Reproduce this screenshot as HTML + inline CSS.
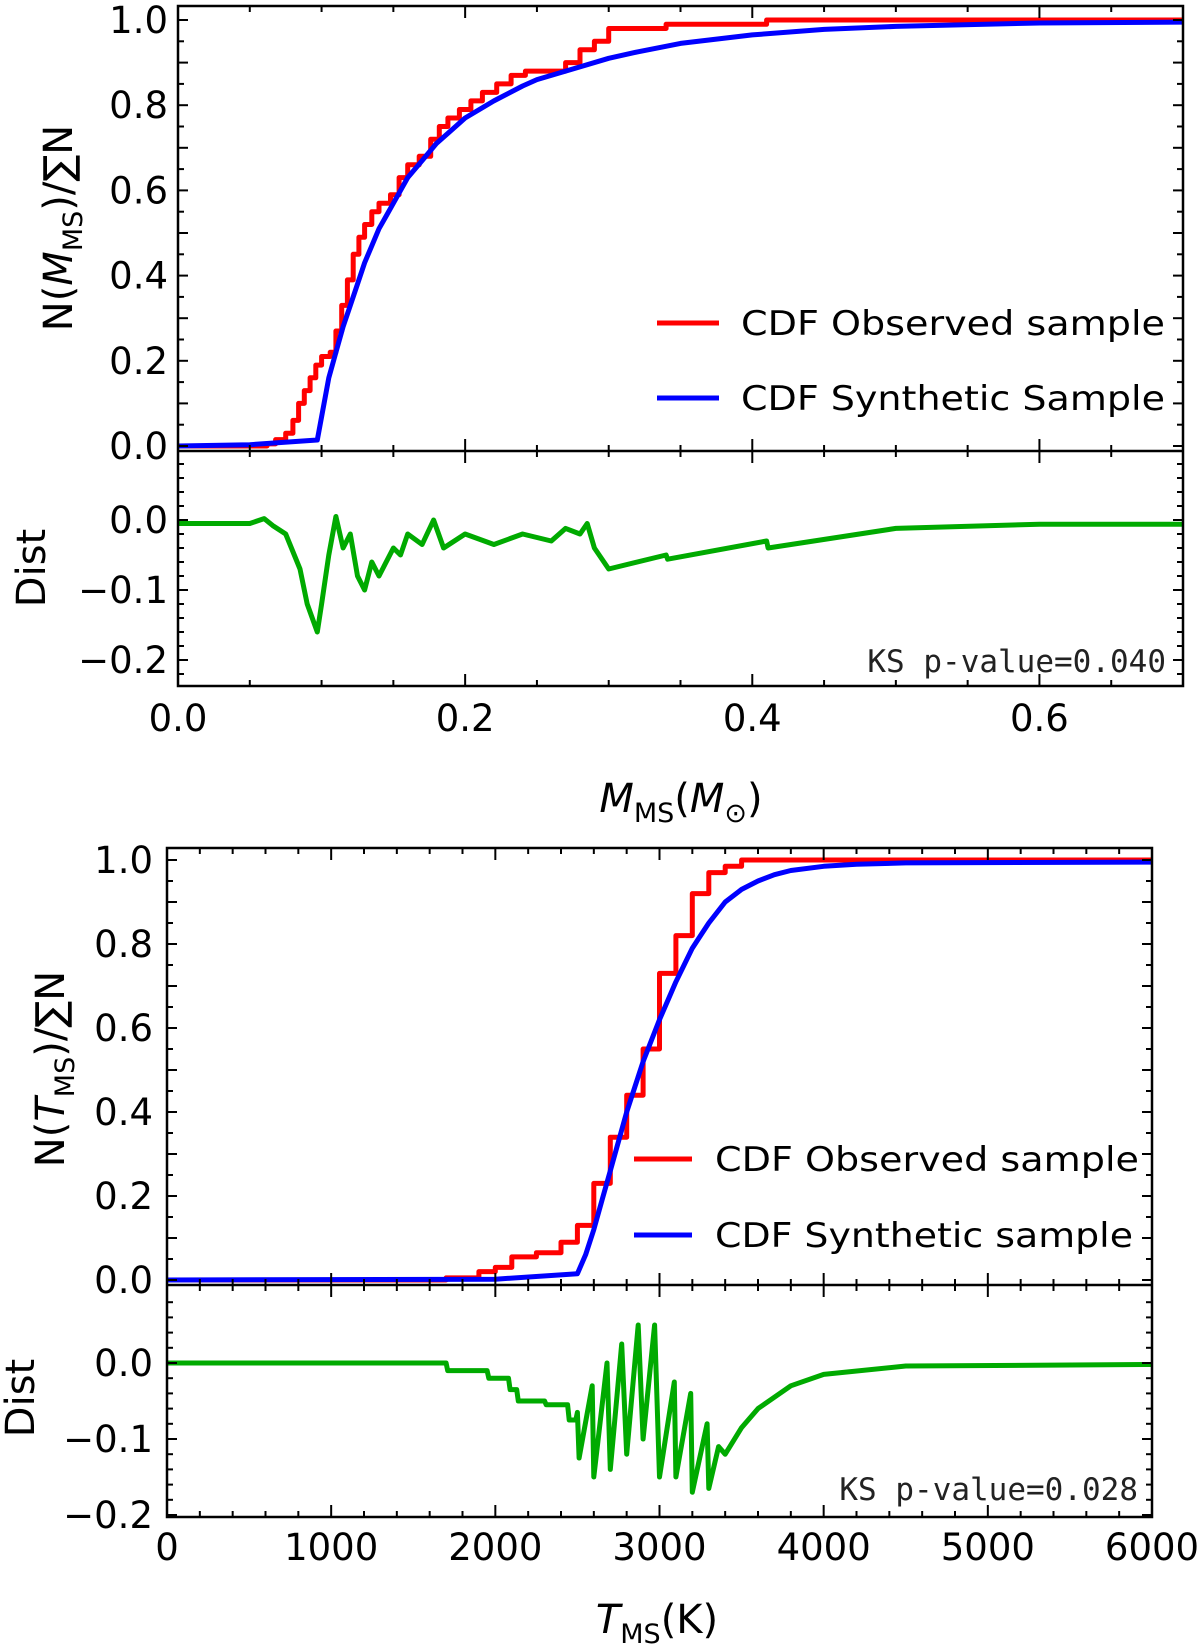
<!DOCTYPE html>
<html><head><meta charset="utf-8">
<style>
html,body{margin:0;padding:0;background:#fff;}
svg{display:block;font-family:"DejaVu Sans","Liberation Sans",sans-serif;}
</style></head>
<body>
<svg id="fig" width="1200" height="1647" viewBox="0 0 1200 1647" xmlns="http://www.w3.org/2000/svg">
</svg>
<script>
// ---------- Top panel data (mass) ----------
const massObsX = [0,0.062,0.068,0.075,0.08,0.084,0.088,0.092,0.096,0.1,0.106,0.11,0.114,0.118,0.122,0.126,0.13,0.135,0.14,0.148,0.154,0.16,0.168,0.176,0.182,0.188,0.196,0.204,0.212,0.222,0.232,0.242,0.256,0.27,0.28,0.29,0.3,0.34,0.41,0.7];
const massObsY = [0,0.005,0.015,0.03,0.06,0.1,0.13,0.16,0.19,0.21,0.22,0.27,0.33,0.39,0.45,0.49,0.52,0.55,0.57,0.59,0.63,0.66,0.68,0.72,0.75,0.77,0.79,0.81,0.83,0.85,0.87,0.88,0.88,0.9,0.93,0.95,0.98,0.99,1.0,1.0];
const massSynX = [0,0.05,0.097,0.105,0.11,0.115,0.12,0.125,0.13,0.135,0.14,0.145,0.15,0.16,0.17,0.18,0.19,0.2,0.22,0.24,0.25,0.27,0.3,0.32,0.35,0.4,0.45,0.5,0.6,0.7];
const massSynY = [0,0.003,0.014,0.16,0.22,0.28,0.33,0.38,0.43,0.47,0.51,0.54,0.57,0.63,0.67,0.71,0.74,0.77,0.81,0.845,0.86,0.88,0.91,0.925,0.945,0.965,0.978,0.985,0.993,0.995];
const massDistX = [0,0.05,0.06,0.066,0.075,0.085,0.09,0.097,0.1,0.105,0.11,0.115,0.12,0.125,0.13,0.135,0.14,0.15,0.155,0.16,0.17,0.178,0.185,0.2,0.22,0.24,0.26,0.27,0.28,0.285,0.29,0.3,0.34,0.341,0.41,0.411,0.5,0.6,0.7];
const massDistY = [-0.005,-0.005,0.002,-0.008,-0.02,-0.07,-0.12,-0.16,-0.12,-0.05,0.005,-0.04,-0.02,-0.08,-0.1,-0.06,-0.08,-0.04,-0.05,-0.02,-0.035,0.0,-0.04,-0.02,-0.035,-0.02,-0.03,-0.012,-0.02,-0.005,-0.04,-0.07,-0.05,-0.056,-0.03,-0.04,-0.012,-0.006,-0.006];
const massXTicks = [0,0.2,0.4,0.6];
const massXTickLabels = ["0.0","0.2","0.4","0.6"];
const mainYTicks = [0,0.2,0.4,0.6,0.8,1.0];
const mainYTickLabels = ["0.0","0.2","0.4","0.6","0.8","1.0"];
const massDistTicks = [0,-0.1,-0.2];
const massDistTickLabels = ["0.0","\u22120.1","\u22120.2"];

// ---------- Bottom panel data (temperature) ----------
const tempObsX = [0,1700,1900,2000,2100,2250,2400,2500,2600,2700,2800,2900,3000,3100,3200,3300,3400,3500,6000];
const tempObsY = [0,0.005,0.02,0.03,0.055,0.065,0.09,0.13,0.23,0.34,0.44,0.55,0.73,0.82,0.92,0.97,0.985,1.0,1.0];
const tempSynX = [0,2000,2500,2550,2600,2650,2700,2750,2800,2850,2900,2950,3000,3050,3100,3150,3200,3250,3300,3350,3400,3500,3600,3700,3800,4000,4200,4500,6000];
const tempSynY = [0,0.002,0.015,0.06,0.12,0.19,0.26,0.33,0.40,0.46,0.52,0.57,0.62,0.665,0.71,0.75,0.79,0.82,0.85,0.875,0.9,0.93,0.95,0.965,0.975,0.985,0.99,0.993,0.995];
const tempDistX = [0,1700,1710,1950,1960,2080,2090,2130,2140,2300,2310,2440,2450,2490,2500,2510,2590,2600,2680,2700,2770,2800,2870,2900,2970,3000,3090,3100,3190,3200,3290,3300,3360,3400,3500,3600,3800,4000,4500,6000];
const tempDistY = [0,0,-0.01,-0.01,-0.02,-0.02,-0.035,-0.035,-0.05,-0.05,-0.055,-0.055,-0.075,-0.075,-0.065,-0.125,-0.03,-0.15,-0.0,-0.14,0.025,-0.12,0.05,-0.1,0.05,-0.15,-0.025,-0.15,-0.04,-0.17,-0.08,-0.165,-0.11,-0.12,-0.085,-0.06,-0.03,-0.015,-0.004,-0.002];
const tempXTicks = [0,1000,2000,3000,4000,5000,6000];
const tempXTickLabels = ["0","1000","2000","3000","4000","5000","6000"];
const tempDistTicks = [0,-0.1,-0.2];
const tempDistTickLabels = ["0.0","\u22120.1","\u22120.2"];

const NS="http://www.w3.org/2000/svg";
const svg=document.getElementById('fig');
function mk(tag,attrs,parent){const e=document.createElementNS(NS,tag);for(const k in attrs)e.setAttribute(k,attrs[k]);(parent||svg).appendChild(e);return e;}

function panel(cfg){
  const g=mk('g',{});
  
  
  const L=cfg.left,R=cfg.right;
  const sx=v=>L+(v-cfg.xmin)/(cfg.xmax-cfg.xmin)*(R-L);
  const syM=v=>cfg.y0+(cfg.y1-cfg.y0)*v;
  const syD=v=>cfg.d0+(cfg.d1-cfg.d0)*(v/-0.1);
  const cid='c'+cfg.name;
  const cp=mk('clipPath',{id:cid+'m'},g);mk('rect',{x:L,y:cfg.top,width:R-L,height:cfg.div-cfg.top},cp);
  const cp2=mk('clipPath',{id:cid+'d'},g);mk('rect',{x:L,y:cfg.div,width:R-L,height:cfg.bottom-cfg.div},cp2);
  const gm=mk('g',{'clip-path':'url(#'+cid+'m)'},g);
  const gd=mk('g',{'clip-path':'url(#'+cid+'d)'},g);
  function pathIn(grp,xs,ys,sy,color,w,step,nm){
    let d='';
    for(let i=0;i<xs.length;i++){
      const X=sx(xs[i]),Y=sy(ys[i]);
      if(i===0)d+='M'+X.toFixed(1)+','+Y.toFixed(1);
      else{ if(step){d+=' L'+X.toFixed(1)+','+sy(ys[i-1]).toFixed(1);} d+=' L'+X.toFixed(1)+','+Y.toFixed(1); }
    }
    const p=mk('path',{d:d,fill:'none',stroke:color,'stroke-width':w,'stroke-linejoin':'round'},grp);
    
    
  }
  pathIn(gm,cfg.obsX,cfg.obsY,syM,'#ff0000',5,true,'observed-cdf-line');
  pathIn(gm,cfg.synX,cfg.synY,syM,'#0000ff',5,false,'synthetic-cdf-line');
  pathIn(gd,cfg.distX,cfg.distY,syD,'#00aa00',5,false,'distance-line');
  const tk=mk('g',{stroke:'#000','stroke-width':2},g);
  
  
  for(let v=cfg.xmin;v<=cfg.xmax+1e-9;v+=cfg.xminor){
    const maj=Math.abs(Math.round(v/cfg.xmajor)*cfg.xmajor-v)<1e-9;
    const len=maj?12:6,X=sx(v);
    [cfg.top,cfg.div,cfg.bottom].forEach((y,i)=>{
      if(i!==0) mk('line',{x1:X,x2:X,y1:y,y2:y-len},tk);
      if(i!==2) mk('line',{x1:X,x2:X,y1:y,y2:y+len},tk);
    });
  }
  for(let v=0;v<=1.0001;v+=0.05){
    const maj=Math.abs(Math.round(v/0.1)*0.1-v)<1e-9,len=maj?10:6,Y=syM(v);
    mk('line',{x1:L,x2:L+len,y1:Y,y2:Y},tk);mk('line',{x1:R,x2:R-len,y1:Y,y2:Y},tk);
  }
  for(let v=0.08;v>=-0.24;v-=0.02){
    const Y=syD(v);if(Y<cfg.div+2||Y>cfg.bottom-2)continue;
    const maj=Math.abs(Math.round(v/0.1)*0.1-v)<1e-9,len=maj?10:6;
    mk('line',{x1:L,x2:L+len,y1:Y,y2:Y},tk);mk('line',{x1:R,x2:R-len,y1:Y,y2:Y},tk);
  }
  mk('rect',{x:L,y:cfg.top,width:R-L,height:cfg.bottom-cfg.top,fill:'none',stroke:'#000','stroke-width':2.5},g);
  mk('line',{x1:L,x2:R,y1:cfg.div,y2:cfg.div,stroke:'#000','stroke-width':2.5},g);
  const fs=37;
  cfg.xticks.forEach((v,i)=>{const t=mk('text',{x:sx(v),y:cfg.xlabY,'font-size':fs,'text-anchor':'middle'},g);t.textContent=cfg.xtickLabels[i];
    });
  mainYTicks.forEach((v,i)=>{const t=mk('text',{x:cfg.ylabR,y:syM(v)+13,'font-size':fs,'text-anchor':'end'},g);t.textContent=mainYTickLabels[i];
    });
  cfg.dticks.forEach((v,i)=>{const t=mk('text',{x:cfg.ylabR,y:syD(v)+13,'font-size':fs,'text-anchor':'end'},g);t.textContent=cfg.dtickLabels[i];
    });
  const lg=mk('g',{},g);
  
  cfg.legend.forEach(e=>{
    mk('line',{x1:e.x1,x2:e.x2,y1:e.y,y2:e.y,stroke:e.c,'stroke-width':5},lg);
    const t=mk('text',{x:e.tx,y:e.y+12,'font-size':34,textLength:e.tw,lengthAdjust:'spacingAndGlyphs'},lg);t.textContent=e.t;
    
  });
  const ks=mk('text',{x:cfg.ksR,y:cfg.ksY,'font-size':31,'text-anchor':'end','font-family':'"DejaVu Sans Mono","Liberation Mono",monospace',fill:'#222'},g);
  ks.textContent=cfg.ks;
  
}

panel({name:'mass-panel',left:178,right:1183,top:6,div:451,bottom:686,xmin:0,xmax:0.7,xmajor:0.2,xminor:0.05,
  y0:446,y1:20,d0:520,d1:590,
  obsX:massObsX,obsY:massObsY,synX:massSynX,synY:massSynY,distX:massDistX,distY:massDistY,
  xticks:massXTicks,xtickLabels:massXTickLabels,dticks:massDistTicks,dtickLabels:massDistTickLabels,
  xlabY:731,ylabR:168,ksR:1166,ksY:672,ks:'KS p-value=0.040',
  legend:[{x1:657,x2:719,y:323,c:'#ff0000',tx:741,tw:424,t:'CDF Observed sample'},
          {x1:657,x2:719,y:398,c:'#0000ff',tx:741,tw:424,t:'CDF Synthetic Sample'}]});
panel({name:'temperature-panel',left:167,right:1152,top:848,div:1285,bottom:1517,xmin:0,xmax:6000,xmajor:1000,xminor:200,
  y0:1280,y1:860,d0:1363,d1:1439,
  obsX:tempObsX,obsY:tempObsY,synX:tempSynX,synY:tempSynY,distX:tempDistX,distY:tempDistY,
  xticks:tempXTicks,xtickLabels:tempXTickLabels,dticks:tempDistTicks,dtickLabels:tempDistTickLabels,
  xlabY:1560,ylabR:153,ksR:1138,ksY:1500,ks:'KS p-value=0.028',
  legend:[{x1:634,x2:692,y:1159,c:'#ff0000',tx:715,tw:424,t:'CDF Observed sample'},
          {x1:634,x2:692,y:1235,c:'#0000ff',tx:715,tw:418,t:'CDF Synthetic sample'}]});
</script>
<svg style="position:absolute;left:0;top:0" width="1200" height="1647" xmlns="http://www.w3.org/2000/svg" font-family="DejaVu Sans, Liberation Sans, sans-serif">
  <text transform="translate(72,228) rotate(-90)" font-size="40" text-anchor="middle">N(<tspan font-style="italic">M</tspan><tspan font-size="27" dy="10">MS</tspan><tspan dy="-10">)/∑N</tspan></text>
  <text transform="translate(45,568) rotate(-90)" font-size="40" text-anchor="middle">Dist</text>
  <text x="681" y="812" font-size="40" text-anchor="middle"><tspan font-style="italic">M</tspan><tspan font-size="27" dy="10">MS</tspan><tspan dy="-10">(</tspan><tspan font-style="italic">M</tspan><tspan font-size="27" dy="10">⊙</tspan><tspan dy="-10">)</tspan></text>
  <text transform="translate(64,1069) rotate(-90)" font-size="40" text-anchor="middle">N(<tspan font-style="italic">T</tspan><tspan font-size="27" dy="10">MS</tspan><tspan dy="-10">)/∑N</tspan></text>
  <text transform="translate(34,1398) rotate(-90)" font-size="40" text-anchor="middle">Dist</text>
  <text x="657" y="1633" font-size="40" text-anchor="middle"><tspan font-style="italic">T</tspan><tspan font-size="27" dy="10">MS</tspan><tspan dy="-10">(K)</tspan></text>
</svg>
</body></html>
